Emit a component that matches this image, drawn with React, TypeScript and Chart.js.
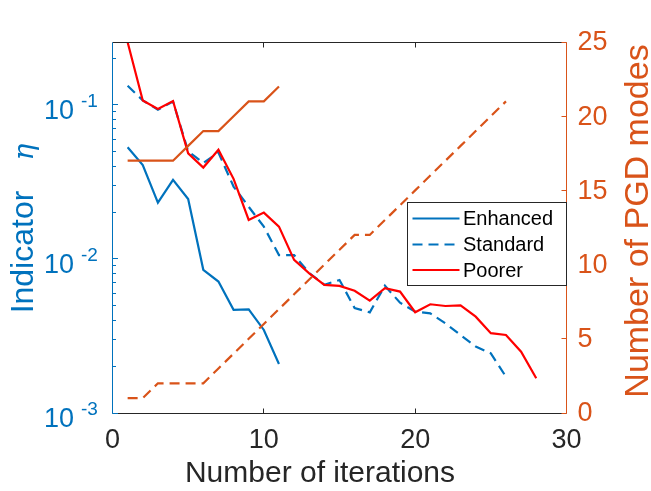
import { useEffect, useRef } from "react";
import { Chart, registerables } from "chart.js";

Chart.register(...registerables);

// ---------- data ----------
const iterEnhanced = [1, 2, 3, 4, 5, 6, 7, 8, 9, 10, 11];
const etaEnhanced = [0.0531, 0.0407, 0.0232, 0.0326, 0.0245, 0.0085, 0.00713, 0.00467, 0.00471, 0.00346, 0.00208];

const iterStandard = [1, 2, 3, 4, 5, 6, 7, 8, 9, 10, 11, 12, 13, 14, 15, 16, 17, 18, 19, 20, 21, 22, 23, 24, 25, 26];
const etaStandard = [0.133, 0.107, 0.093, 0.105, 0.05, 0.042, 0.049, 0.0295, 0.0218, 0.0162, 0.0106, 0.0106, 0.0081,
  0.0068, 0.0073, 0.0048, 0.0045, 0.0067, 0.0052, 0.00455, 0.00443, 0.00382, 0.00321, 0.0027, 0.00244, 0.00172];

const iterPoorer = [1, 2, 3, 4, 5, 6, 7, 8, 9, 10, 11, 12, 13, 14, 15, 16, 17, 18, 19, 20, 21, 22, 23, 24, 25, 26, 27, 28];
const etaPoorer = [0.255, 0.1067, 0.0942, 0.106, 0.0485, 0.0392, 0.0511, 0.0331, 0.0179, 0.02, 0.0162, 0.00986, 0.00807,
  0.00678, 0.00668, 0.00622, 0.00536, 0.00646, 0.00614, 0.00451, 0.00508, 0.00495, 0.005, 0.00422, 0.0033, 0.00321, 0.0025, 0.00168];

const modesEnhanced = [17, 17, 17, 17, 18, 19, 19, 20, 21, 21, 22];
const modesStandard = [1, 1, 2, 2, 2, 2, 3, 4, 5, 6, 7, 8, 9, 10, 11, 12, 12, 13, 14, 15, 16, 17, 18, 19, 20, 21];

const xTicks = [0, 10, 20, 30];
const leftTickExponents = [-3, -2, -1];
const rightTicks = [0, 5, 10, 15, 20, 25];
const legendLabels = ["Enhanced", "Standard", "Poorer"];

const xLabel = "Number of iterations";
const leftLabel = "Indicator";
const leftSymbol = "η";
const rightLabel = "Number of PGD modes";

// ---------- style ----------
const BLUE = "#0072BD";
const ORANGE = "#D95319";
const RED = "#FF0000";
const DARK = "#262626";
const FONT = '"Liberation Sans", Arial, Helvetica, sans-serif';

const pts = (xs: number[], ys: number[]) => xs.map((x, i) => ({ x, y: ys[i] }));

const matlabPlugin = {
  id: "matlabAxes",
  afterDraw(chart: any) {
    const { ctx, chartArea: a, scales } = chart;
    const sx = scales.x, yl = scales.yL, yr = scales.yR;
    ctx.save();
    const seg = (x1: number, y1: number, x2: number, y2: number) => {
      ctx.beginPath();
      ctx.moveTo(x1, y1);
      ctx.lineTo(x2, y2);
      ctx.stroke();
    };
    const L = Math.floor(a.left) + 0.5;
    const R = Math.floor(a.right) + 0.5;
    const T = Math.floor(a.top) + 0.5;
    const B = Math.floor(a.bottom) + 0.5;
    ctx.lineWidth = 1;
    // box
    ctx.strokeStyle = DARK;
    seg(L, T, R, T);
    seg(L, B, R, B);
    // x ticks
    for (const v of xTicks) {
      const px = Math.floor(sx.getPixelForValue(v)) + 0.5;
      if (v !== xTicks[0] && v !== xTicks[xTicks.length - 1]) {
        seg(px, B, px, B - 5);
        seg(px, T, px, T + 5);
      }
    }
    ctx.fillStyle = DARK;
    ctx.font = `27px ${FONT}`;
    ctx.textAlign = "center";
    ctx.textBaseline = "alphabetic";
    for (const v of xTicks) {
      ctx.fillText(String(v), sx.getPixelForValue(v), a.bottom + 35);
    }
    ctx.font = `30px ${FONT}`;
    ctx.fillText(xLabel, 320, 482);

    // left axis
    ctx.strokeStyle = BLUE;
    seg(L, T, L, B);
    const lo = leftTickExponents[0];
    for (let e = lo; e <= 0; e++) {
      for (let m = 1; m <= 9; m++) {
        const v = m * Math.pow(10, e);
        const py = yl.getPixelForValue(v);
        if (py < a.top - 0.5 || py > a.bottom + 0.5) continue;
        const len = m === 1 ? 5.5 : 3.5;
        const yy = Math.floor(py) + 0.5;
        seg(L, yy, L + len, yy);
      }
    }
    ctx.fillStyle = BLUE;
    for (const e of leftTickExponents) {
      const py = yl.getPixelForValue(Math.pow(10, e));
      ctx.font = `27px ${FONT}`;
      ctx.textAlign = "right";
      ctx.fillText("10", 74, py + 14.3);
      ctx.font = `19px ${FONT}`;
      ctx.textAlign = "left";
      ctx.fillText(String(e), 81, py + 1.7);
    }
    // left label (rotated)
    ctx.save();
    ctx.translate(33, 252);
    ctx.rotate(-Math.PI / 2);
    ctx.textAlign = "center";
    ctx.font = `32px ${FONT}`;
    ctx.fillText(leftLabel, 0, 0);
    ctx.restore();
    ctx.save();
    ctx.translate(33, 152);
    ctx.rotate(-Math.PI / 2);
    ctx.textAlign = "center";
    ctx.font = `italic 28px "DejaVu Serif", "Liberation Serif", serif`;
    ctx.fillText(leftSymbol, 0, 0);
    ctx.restore();

    // right axis
    ctx.strokeStyle = ORANGE;
    seg(R, T, R, B);
    for (const v of rightTicks) {
      const py = Math.floor(yr.getPixelForValue(v)) + 0.5;
      seg(R, py, R - 5, py);
    }
    ctx.fillStyle = ORANGE;
    ctx.font = `27px ${FONT}`;
    ctx.textAlign = "left";
    ctx.textBaseline = "middle";
    for (const v of rightTicks) {
      ctx.fillText(String(v), a.right + 11, yr.getPixelForValue(v) + 1);
    }
    ctx.textBaseline = "alphabetic";
    ctx.save();
    ctx.translate(648, 221);
    ctx.rotate(-Math.PI / 2);
    ctx.textAlign = "center";
    ctx.font = `34px ${FONT}`;
    ctx.fillText(rightLabel, 0, 0);
    ctx.restore();

    // legend
    const lx1 = 407.5, lx2 = R, ly1 = 202.5, ly2 = 285.5;
    ctx.fillStyle = "#FFFFFF";
    ctx.fillRect(lx1, ly1, lx2 - lx1, ly2 - ly1);
    ctx.strokeStyle = DARK;
    ctx.lineWidth = 1;
    ctx.strokeRect(lx1, ly1, lx2 - lx1, ly2 - ly1);
    const rowsY = [218.5, 244.5, 270];
    const colors = [BLUE, BLUE, RED];
    const dashes = [[], [10, 6], []];
    ctx.font = `20px ${FONT}`;
    ctx.textAlign = "left";
    ctx.textBaseline = "middle";
    legendLabels.forEach((lab, i) => {
      ctx.strokeStyle = colors[i];
      ctx.lineWidth = 2.2;
      ctx.setLineDash(dashes[i]);
      seg(412.5, rowsY[i], 459.5, rowsY[i]);
      ctx.setLineDash([]);
      ctx.fillStyle = "#000000";
      ctx.fillText(lab, 463, rowsY[i] + 1);
    });
    ctx.restore();
  },
};

export default function App() {
  const ref = useRef<HTMLCanvasElement | null>(null);
  useEffect(() => {
    document.body.style.margin = "0";
    const canvas = ref.current;
    if (!canvas) return;
    const chart = new Chart(canvas, {
      type: "line",
      data: {
        datasets: [
          { label: "Enhanced", data: pts(iterEnhanced, etaEnhanced), yAxisID: "yL", borderColor: BLUE, borderWidth: 2.2, pointRadius: 0, tension: 0, order: 5 },
          { label: "Standard", data: pts(iterStandard, etaStandard), yAxisID: "yL", borderColor: BLUE, borderWidth: 2.2, borderDash: [10, 6], pointRadius: 0, tension: 0, order: 4 },
          { label: "Poorer", data: pts(iterPoorer, etaPoorer), yAxisID: "yL", borderColor: RED, borderWidth: 2.2, pointRadius: 0, tension: 0, order: 3 },
          { label: "Modes enhanced", data: pts(iterEnhanced, modesEnhanced), yAxisID: "yR", borderColor: ORANGE, borderWidth: 2.2, pointRadius: 0, tension: 0, order: 2 },
          { label: "Modes standard", data: pts(iterStandard, modesStandard), yAxisID: "yR", borderColor: ORANGE, borderWidth: 2.2, borderDash: [10, 6], pointRadius: 0, tension: 0, order: 1 },
        ],
      },
      options: {
        responsive: false,
        animation: false,
        events: [],
        layout: { padding: { left: 112.5, right: 84.5, top: 42, bottom: 78 } },
        plugins: { legend: { display: false }, tooltip: { enabled: false } },
        scales: {
          x: { type: "linear", min: 0, max: 30, display: false },
          yL: { type: "logarithmic", position: "left", min: 0.001, max: 0.256, display: false },
          yR: { type: "linear", position: "right", min: 0, max: 25, display: false },
        },
      },
      plugins: [matlabPlugin],
    });
    return () => chart.destroy();
  }, []);
  return <canvas ref={ref} width={651} height={491} style={{ display: "block" }} />;
}
